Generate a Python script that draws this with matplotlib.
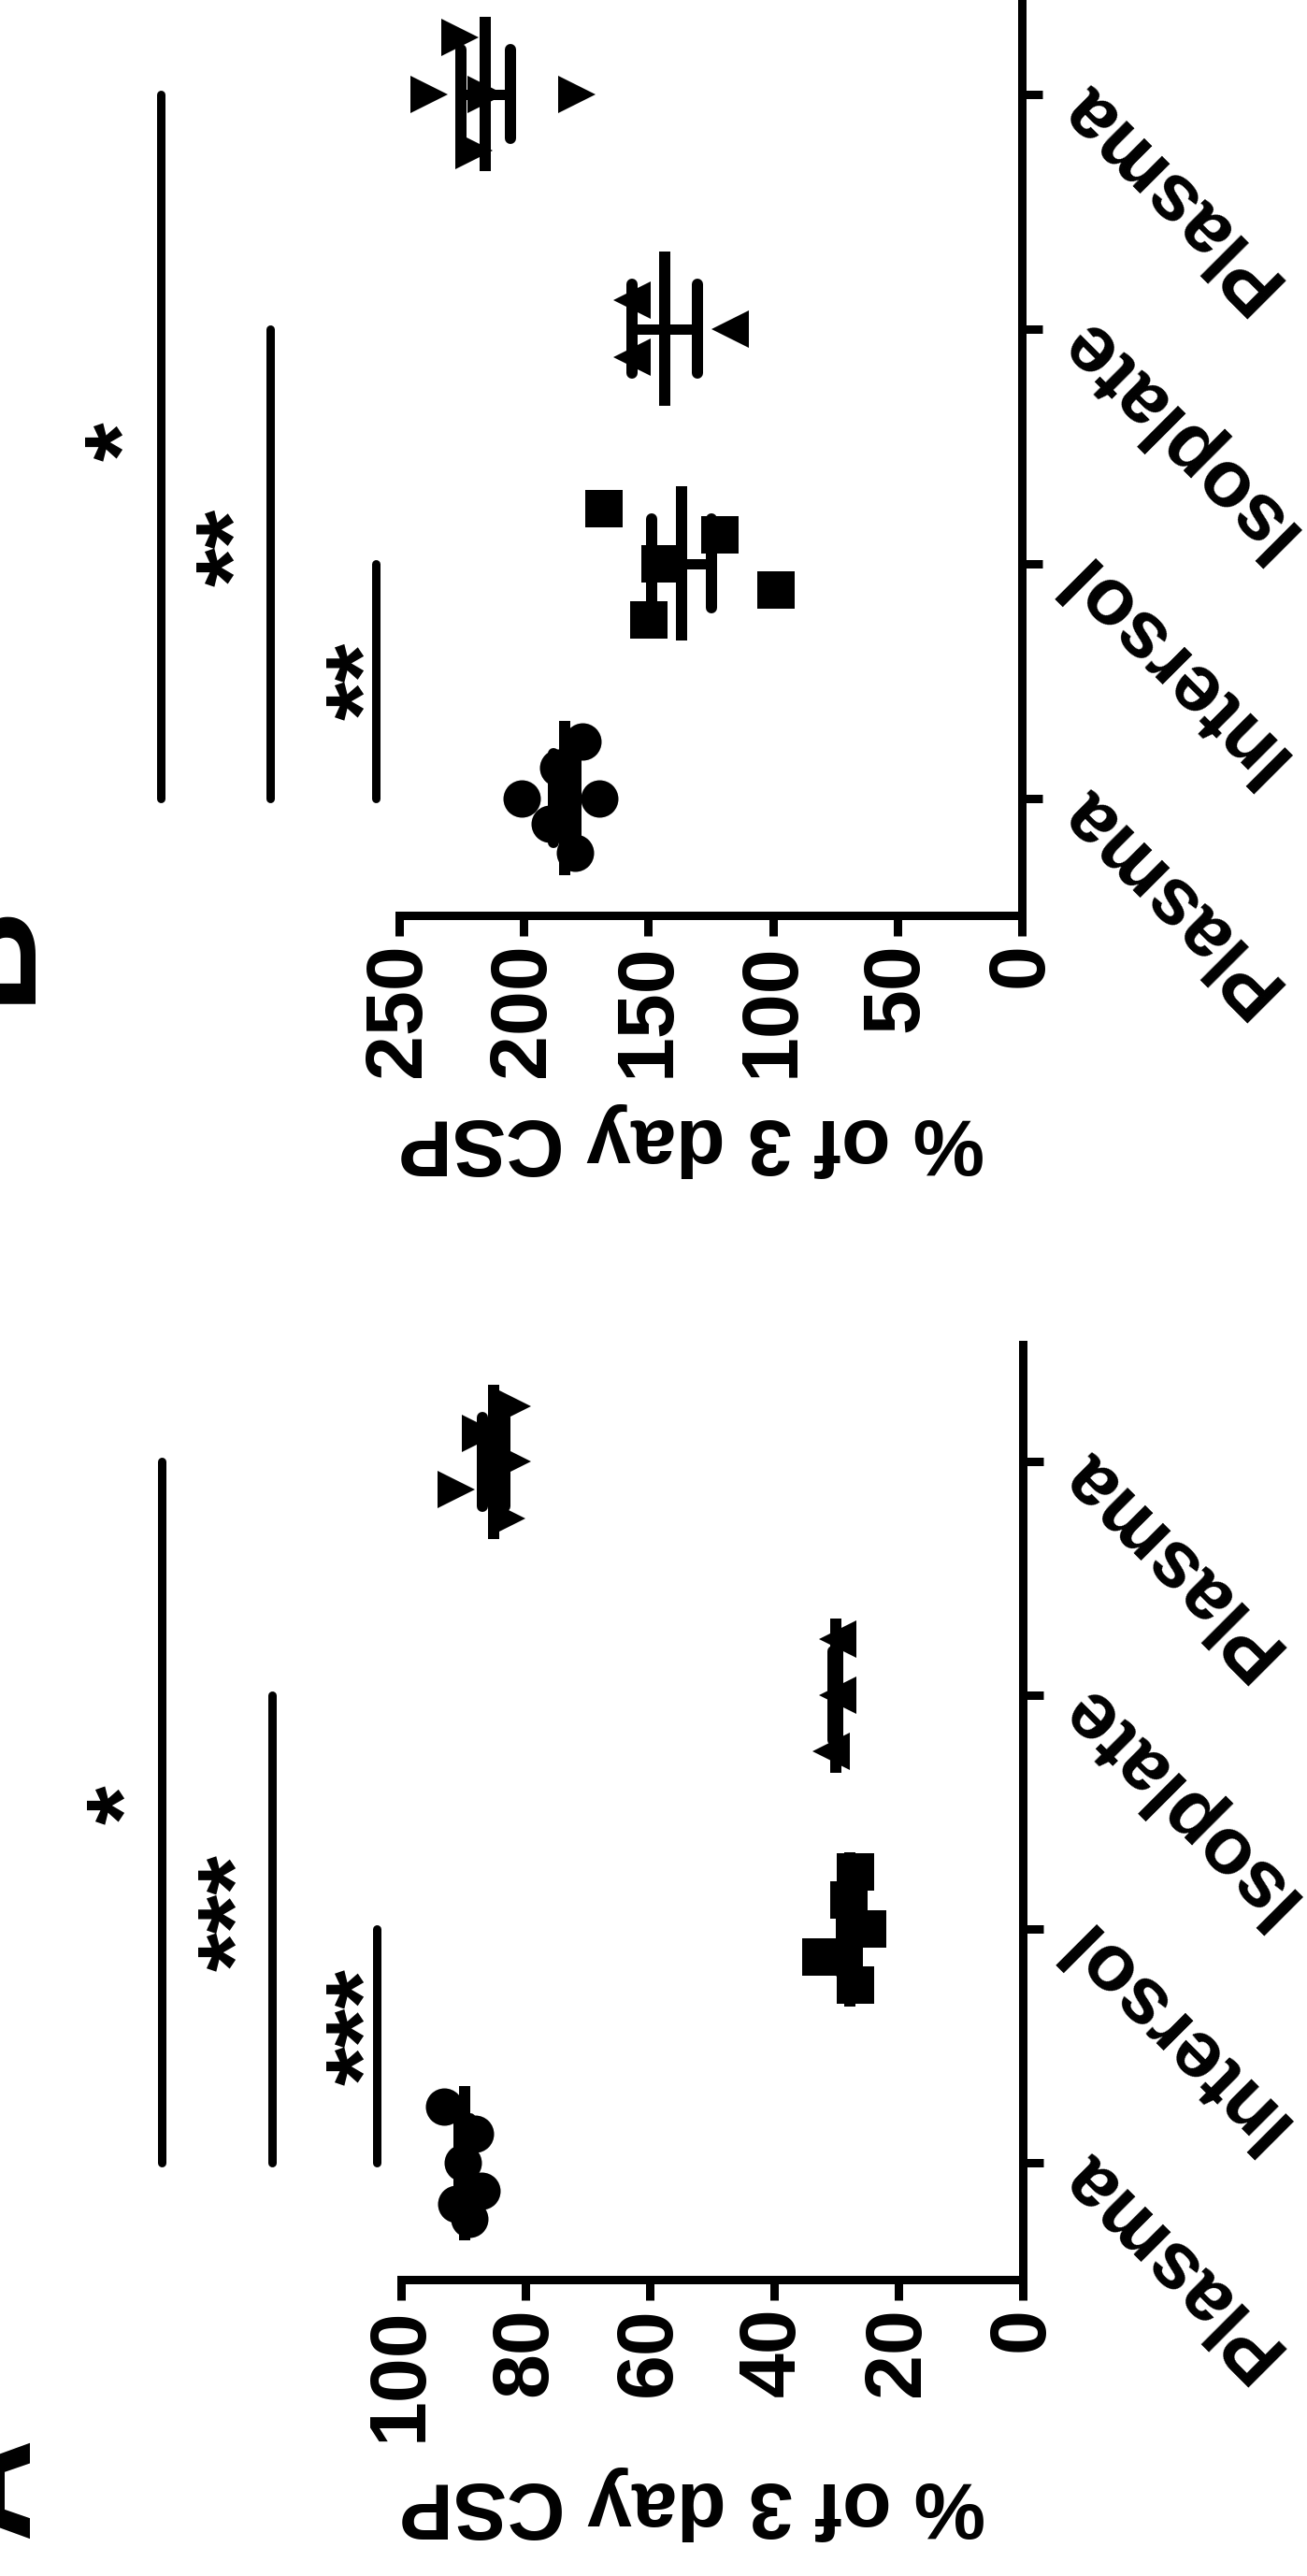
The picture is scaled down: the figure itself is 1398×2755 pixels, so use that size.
import matplotlib
matplotlib.use("Agg")
import matplotlib.pyplot as plt
import numpy as np

plt.rcParams['font.family'] = ['Liberation Sans', 'DejaVu Sans']
plt.rcParams['font.weight'] = 'bold'

# ---------------- data ----------------
categories = ["Plasma", "Intersol", "Isoplate", "Plasma"]
value_label = "% of 3 day CSP"

# Panel A (% of 3 day CSP)
a_plasma = [93.1, 88.1, 90.1, 87.1, 91.1, 89.0]
a_intersol = [26.9, 28.0, 25.0, 32.5, 26.9]
a_isoplate = [29.8, 29.8, 30.8]
a_plasma2 = [82.1, 87.2, 82.1, 91.1, 83.0]
a_ticks = [0, 20, 40, 60, 80, 100]
a_sig_labels = ["*", "***", "***"]
a_sig_pairs = [(0, 3), (0, 2), (0, 1)]
a_sig_line_level = [138.5, 120.75, 103.9]
a_sig_text_level = [148.1, 130.2, 109.5]
a_sig_text_cat = [1.53, 1.07, 0.58]

# Panel B
b_plasma = [176.3, 186.1, 200.8, 169.5, 189.5, 179.3]
b_intersol = [167.7, 121.4, 145.1, 98.9, 149.6]
b_isoplate = [156.4, 156.4, 117.3]
b_plasma2 = [225.6, 238.0, 215.0, 178.6, 219.9]
b_ticks = [0, 50, 100, 150, 200, 250]
b_sig_labels = ["*", "**", "**"]
b_sig_pairs = [(0, 3), (0, 2), (0, 1)]
b_sig_line_level = [345.9, 301.9, 259.4]
b_sig_text_level = [369.9, 325.2, 272.9]
b_sig_text_cat = [1.52, 1.07, 0.5]

# ---------------- layout / style ----------------
markers = ['o', 's', '<', '>']
a_jitter = [[0.24, 0.124, 0, -0.12, -0.176, -0.24],
            [0.244, 0.124, 0, -0.12, -0.24],
            [0.24, 0, -0.24],
            [0.236, 0.12, 0, -0.12, -0.244]]
b_jitter = [[0.24, 0.13, 0, 0, -0.11, -0.235],
            [0.235, 0.12, 0, -0.115, -0.24],
            [0.12, -0.12, 0],
            [0.24, 0, 0, 0, -0.24]]

W, H = 1398, 2755
DPI = 100
PX = 72.0 / DPI   # points per pixel
FS = 62
FS_STAR = 77

fig = plt.figure(figsize=(W / DPI, H / DPI), dpi=DPI)
fig.patch.set_facecolor('white')


def px_axes(l, t, r, b):
    return fig.add_axes([l / W, 1 - b / H, (r - l) / W, (b - t) / H])


def draw_panel(ax, groups, jitter, ticks, sig_pairs, sig_labels, line_lv,
               text_lv, text_cat):
    for i, (vals, jit, mk) in enumerate(zip(groups, jitter, markers)):
        vals = np.asarray(vals, dtype=float)
        ys = i + np.asarray(jit, dtype=float)
        ax.plot(vals, ys, ls='none', marker=mk, ms=40 * PX, mfc='k', mec='k',
                mew=0, zorder=3, clip_on=False)
        m = vals.mean()
        s = vals.std(ddof=1) / np.sqrt(len(vals))
        ax.plot([m, m], [i - 0.33, i + 0.33], color='k', lw=12 * PX,
                solid_capstyle='butt', zorder=4)
        ax.plot([m - s, m + s], [i, i], color='k', lw=11 * PX,
                solid_capstyle='butt', zorder=4)
        for e in (m - s, m + s):
            ax.plot([e, e], [i - 0.19, i + 0.19], color='k', lw=12 * PX,
                    solid_capstyle='round', zorder=4)
    for (c0, c1), lab, lv, tv, tc in zip(sig_pairs, sig_labels, line_lv,
                                         text_lv, text_cat):
        ax.plot([lv, lv], [c0, c1], color='k', lw=9 * PX, solid_capstyle='round',
                clip_on=False)
        ax.annotate(lab, xy=(tv, tc), xytext=(30 * PX, 0),
                    textcoords='offset points', rotation=90, ha='center',
                    va='center', fontsize=FS_STAR, fontweight='bold',
                    annotation_clip=False)

    ax.set_xlim(max(ticks), 0)
    ax.set_ylim(-0.5, 3.5)
    ax.set_xticks(ticks)
    ax.set_xticklabels([str(t) for t in ticks])
    ax.set_yticks(range(len(categories)))
    ax.set_yticklabels(categories)
    ax.yaxis.tick_right()
    for sp in ('top', 'left'):
        ax.spines[sp].set_visible(False)
    for sp in ('bottom', 'right'):
        ax.spines[sp].set_linewidth(9 * PX)
        ax.spines[sp].set_capstyle('projecting')
    ax.tick_params(axis='x', direction='out', length=22 * PX, width=9 * PX,
                   pad=7 * PX, labelsize=FS, labelrotation=90)
    ax.tick_params(axis='y', direction='out', length=22 * PX, width=9 * PX,
                   pad=28 * PX, labelsize=FS)
    for lbl in ax.get_yticklabels():
        lbl.set_rotation(135)
        lbl.set_rotation_mode('anchor')
        lbl.set_ha('right')
        lbl.set_va('center')
    ax.set_xlabel(value_label, fontsize=FS, fontweight='bold', rotation=180,
                  rotation_mode='anchor', ha='center', va='baseline')
    ax.xaxis.set_label_coords(0.469, -0.217)
    ax.set_facecolor('none')


axA = px_axes(429, 1438, 1094, 2438)
draw_panel(axA, [a_plasma, a_intersol, a_isoplate, a_plasma2], a_jitter, a_ticks,
           a_sig_pairs, a_sig_labels, a_sig_line_level, a_sig_text_level,
           a_sig_text_cat)

axB = px_axes(427, -25, 1093, 979)
draw_panel(axB, [b_plasma, b_intersol, b_isoplate, b_plasma2], b_jitter, b_ticks,
           b_sig_pairs, b_sig_labels, b_sig_line_level, b_sig_text_level,
           b_sig_text_cat)

fig.text(29 / W, 1 - 2715 / H, "A", rotation=90, rotation_mode='anchor',
         ha='left', va='baseline', fontsize=110, fontweight='bold')
fig.text(29 / W, 1 - 1073 / H, "B", rotation=90, rotation_mode='anchor',
         ha='left', va='baseline', fontsize=110, fontweight='bold')

fig.savefig("out.png", dpi=DPI, facecolor='white')
